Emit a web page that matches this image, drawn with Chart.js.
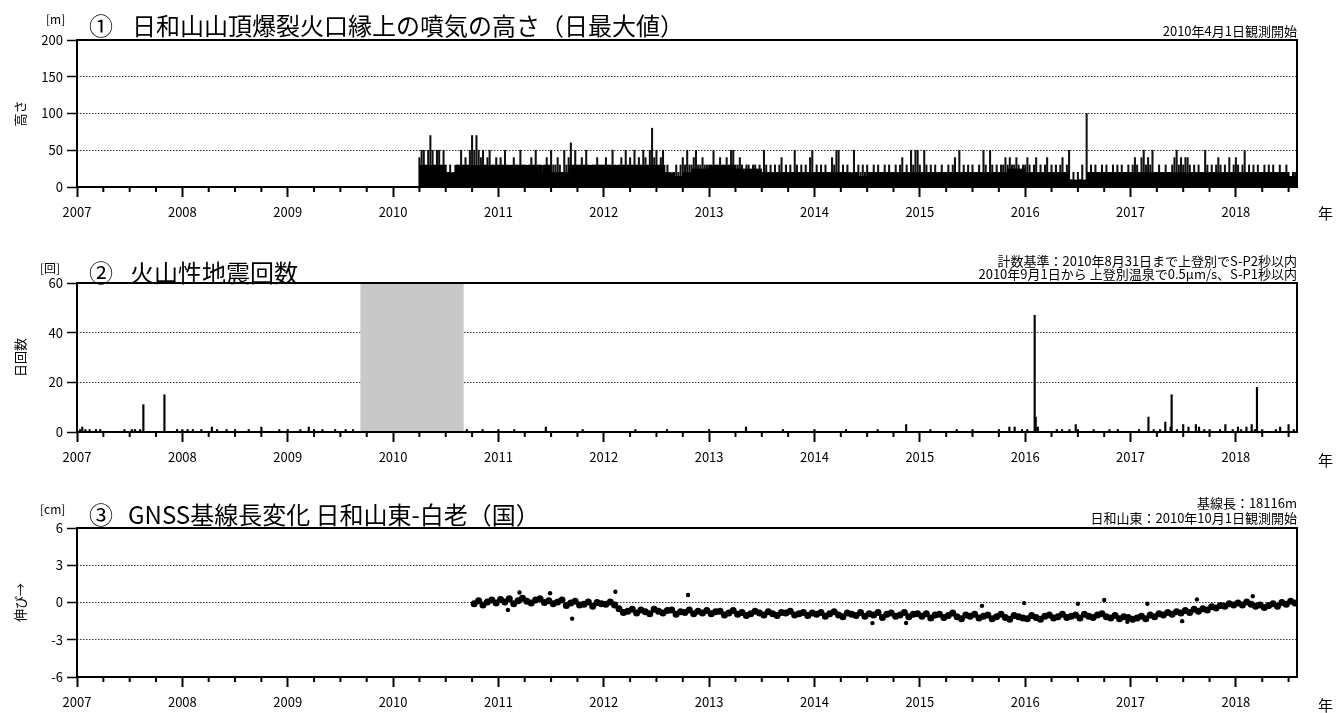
<!DOCTYPE html>
<html lang="ja">
<head>
<meta charset="UTF-8">
<title>日和山 観測データ</title>
<script src="https://cdn.jsdelivr.net/npm/chart.js@4.4.1/dist/chart.umd.min.js"></script>
<style>
  body { margin: 0; background: #fff; font-family: "Noto Sans CJK JP", sans-serif; color: #000; }
  #page { position: relative; width: 1344px; height: 713px; overflow: hidden; }
  .panel { position: absolute; left: 0; width: 1344px; }
  .txt { position: absolute; white-space: nowrap; line-height: 1; }
  .unit { font-size: 12px; }
  .big { font-size: 24px; }
  .note { font-size: 13px; right: 47px; text-align: right; }
  .nen { font-size: 15px; left: 1318px; }
</style>
</head>
<body>
<div id="page">
  <div class="panel" style="top:0;height:230px"><canvas id="c1"></canvas></div>
  <div class="panel" style="top:240px;height:235px"><canvas id="c2"></canvas></div>
  <div class="panel" style="top:485px;height:228px"><canvas id="c3"></canvas></div>

  <div class="txt unit" style="left:46px;top:13px">[m]</div>
  <div class="txt big" style="left:89px;top:13px">①</div>
  <div class="txt big" style="left:132px;top:13px">日和山山頂爆裂火口縁上の噴気の高さ（日最大値）</div>
  <div class="txt note" style="top:24px">2010年4月1日観測開始</div>
  <div class="txt nen" style="top:205px">年</div>

  <div class="txt unit" style="left:40px;top:262px">[回]</div>
  <div class="txt big" style="left:89px;top:260px">②</div>
  <div class="txt big" style="left:130px;top:260px">火山性地震回数</div>
  <div class="txt note" style="top:254px">計数基準：2010年8月31日まで上登別でS-P2秒以内</div>
  <div class="txt note" style="top:267px">2010年9月1日から 上登別温泉で0.5μm/s、S-P1秒以内</div>
  <div class="txt nen" style="top:452px">年</div>

  <div class="txt unit" style="left:40px;top:503px">[cm]</div>
  <div class="txt big" style="left:89px;top:502px">③</div>
  <div class="txt big" style="left:128px;top:502px">GNSS基線長変化 日和山東-白老（国）</div>
  <div class="txt note" style="top:496px">基線長：18116m</div>
  <div class="txt note" style="top:511px">日和山東：2010年10月1日観測開始</div>
  <div class="txt nen" style="top:697px">年</div>
</div>
<script>
// x range (decimal years)
const xMin = 2007;
const xMax = 2018.58;

// 1) plume height [m]
// dense lower part, one level per month from 2010-04
const plumeStart = 2010.25;
const plumeBlock = [
  30,30,30,20,30,30,30,30,30,                 // 2010
  30,30,30,30,30,30,20,20,30,30,30,30,        // 2011
  30,30,30,30,30,30,30,20,15,20,25,25,        // 2012
  30,30,30,25,25,25,20,20,20,20,20,20,        // 2013
  20,20,20,20,20,15,20,20,20,20,20,20,        // 2014
  20,20,20,20,20,20,20,20,20,20,25,25,        // 2015
  20,20,20,20,20,10,10,20,20,20,20,20,        // 2016
  20,20,20,20,20,20,20,20,20,20,20,20,        // 2017
  20,20,20,20,20,20,15                        // 2018
];
// daily-max lines, one value per 1/48 year
const plumePerYear = 48;
const plumeHeights = [
  // 2010
  40,50,50,30,50,70,50,30,50,50,30,50,
  30,20,30,10,20,30,30,50,30,40,30,50,
  70,50,70,50,40,50,30,40,50,30,30,40,
  // 2011
  30,40,30,50,30,20,30,40,30,30,50,30,
  30,20,30,40,30,50,30,30,20,30,40,30,
  50,30,30,40,30,20,50,30,40,60,30,50,
  30,30,40,30,50,30,20,30,30,40,30,30,
  // 2012
  30,40,30,30,50,30,20,30,40,30,50,30,
  40,30,50,30,40,30,50,40,30,50,80,40,
  50,30,40,50,20,30,20,10,20,30,20,30,
  40,30,50,30,30,40,50,30,30,40,30,30,
  // 2013
  30,30,50,30,30,40,30,30,40,30,50,50,
  30,30,40,30,20,30,30,20,30,30,20,30,
  20,50,30,20,30,20,30,20,30,40,20,30,
  20,30,20,50,30,20,30,20,30,20,40,50,
  // 2014
  20,30,20,30,20,30,20,20,40,30,50,50,
  20,30,20,30,20,0,50,20,30,20,30,20,
  30,20,20,30,20,30,20,20,30,20,30,20,
  20,30,20,30,40,20,30,20,50,30,50,50,
  // 2015
  30,20,50,30,20,30,20,30,20,20,30,20,
  20,30,20,30,40,20,50,20,30,20,30,20,
  30,20,20,30,20,50,30,20,50,30,20,30,
  20,30,30,40,30,40,30,30,40,30,20,30,
  // 2016
  30,40,30,20,30,40,20,30,20,30,40,20,
  30,20,30,20,30,40,20,30,50,10,20,5,
  20,10,30,5,100,20,30,20,30,20,20,30,
  20,30,20,20,30,20,30,20,30,20,20,30,
  // 2017
  20,30,40,30,20,40,50,30,40,30,50,20,
  20,30,20,20,30,20,20,30,40,50,30,40,
  30,40,40,30,20,30,20,30,20,20,50,30,
  20,30,20,30,40,30,20,30,20,40,20,30,
  // 2018
  40,30,20,30,50,20,30,20,30,20,30,20,
  20,30,20,30,20,30,20,20,30,20,20,30,
  20,10,20,20
];

// 2) volcanic earthquakes per day
const quakeDates = [
  2007.03,2007.05,2007.08,2007.12,2007.18,2007.22,2007.45,2007.52,2007.55,2007.60,
  2007.63,2007.83,2007.95,2008.00,2008.05,2008.10,2008.18,2008.28,2008.33,2008.42,
  2008.50,2008.63,2008.75,2008.92,2009.00,2009.12,2009.20,2009.25,2009.33,2009.45,
  2009.55,2009.62,2010.70,2010.85,2011.00,2011.15,2011.45,2011.80,2012.30,2012.60,
  2013.00,2013.35,2013.70,2014.00,2014.30,2014.60,2014.87,2015.10,2015.35,2015.50,
  2015.75,2015.85,2015.90,2015.97,2016.02,2016.09,2016.10,2016.12,2016.30,2016.35,
  2016.42,2016.48,2016.50,2016.65,2016.80,2016.88,2017.08,2017.17,2017.22,2017.28,
  2017.33,2017.38,2017.39,2017.44,2017.50,2017.55,2017.62,2017.65,2017.70,2017.75,
  2017.85,2017.90,2017.97,2018.02,2018.05,2018.10,2018.15,2018.18,2018.20,2018.25,
  2018.38,2018.42,2018.50,2018.55
];
const quakeCounts = [
  1,2,1,1,1,1,1,1,1,1,
  11,15,1,1,1,1,1,2,1,1,
  1,1,2,1,1,1,2,1,1,1,
  1,1,1,1,1,1,2,1,1,1,
  1,2,1,1,1,1,3,1,1,1,
  1,2,2,1,1,47,6,2,1,1,
  1,3,1,1,1,1,1,6,1,1,
  4,2,15,1,3,2,3,2,1,1,
  1,3,1,2,1,2,3,1,18,1,
  1,2,3,1
];
// period without data (grey box)
const quakeGap = [2009.69, 2010.67];

// 3) GNSS baseline change, one value per 1/24 year starting 2010.77 [cm]
const gnssStart = 2010.77;
const gnssPerYear = 24;
const gnssValues = [
  -0.1,0.15,-0.2,0.05,0.2,-0.05,
  0.25,0.05,0.3,-0.1,0.15,0.35,0.1,-0.05,0.2,0.3,0.0,0.15,
  -0.1,0.05,0.2,-0.25,-0.05,0.1,-0.2,-0.15,0.05,-0.3,0.0,-0.1,
  -0.15,0.05,-0.2,-0.5,-0.8,-0.7,-0.55,-0.85,-0.6,-0.75,-0.9,-0.55,
  -0.7,-0.85,-0.65,-0.6,-0.95,-0.75,-0.8,-0.6,-0.9,-0.7,-0.85,-0.65,
  -0.9,-0.75,-0.7,-1.0,-0.85,-0.65,-0.95,-0.8,-1.05,-0.9,-0.7,-0.85,
  -1.0,-0.75,-0.9,-1.05,-0.8,-0.85,-0.7,-1.0,-0.9,-0.8,-1.05,-0.85,
  -0.95,-0.8,-1.1,-0.9,-0.75,-1.0,-1.15,-0.85,-0.95,-1.05,-0.8,-1.1,
  -0.9,-1.0,-0.8,-1.2,-0.95,-0.85,-1.1,-1.0,-0.8,-1.15,-0.95,-0.9,
  -1.1,-0.9,-1.25,-1.0,-0.95,-1.2,-1.05,-0.85,-1.15,-1.3,-1.0,-1.1,
  -0.95,-1.25,-1.1,-1.0,-1.3,-1.15,-0.95,-1.2,-1.35,-1.05,-1.15,-1.25,
  -1.3,-1.05,-1.2,-1.35,-1.1,-1.0,-1.25,-1.15,-0.95,-1.2,-1.1,-1.0,
  -1.25,-0.95,-1.1,-1.2,-1.0,-0.9,-1.15,-1.25,-1.05,-1.3,-1.15,-1.2,
  -1.35,-1.25,-1.1,-1.3,-1.0,-1.15,-0.9,-1.0,-0.8,-0.95,-0.75,-0.85,
  -0.65,-0.8,-0.55,-0.7,-0.5,-0.6,-0.35,-0.45,-0.25,-0.3,-0.1,-0.2,
  -0.05,-0.2,0.05,-0.15,-0.3,-0.2,-0.4,-0.25,-0.1,-0.3,0.0,-0.15,0.1,-0.05
];
const gnssOutlierDates = [2011.09,2011.20,2011.49,2011.70,2012.11,2012.80,2014.55,2014.87,2015.59,
  2015.99,2016.50,2016.75,2016.97,2017.16,2017.49,2017.63,2018.16];
const gnssOutlierValues = [-0.6,0.8,0.75,-1.3,0.86,0.6,-1.66,-1.65,-0.27,
  -0.05,-0.1,0.2,-1.55,-0.1,-1.5,0.25,0.5];

const FONT = '"Noto Sans CJK JP", sans-serif';

// frame around the plot area + quarterly minor ticks on x
const framePlugin = {
  id: 'frame',
  afterDraw(chart) {
    const { ctx, chartArea: a, scales: { x } } = chart;
    ctx.save();
    ctx.strokeStyle = '#000';
    ctx.lineWidth = 2;
    ctx.strokeRect(a.left, a.top, a.right - a.left, a.bottom - a.top);
    ctx.beginPath();
    for (let q = 1; xMin + q * 0.25 <= xMax; q++) {
      if (q % 4 === 0) continue;
      const px = x.getPixelForValue(xMin + q * 0.25);
      ctx.moveTo(px, a.bottom);
      ctx.lineTo(px, a.bottom + 5);
    }
    ctx.stroke();
    ctx.restore();
  }
};

const gapPlugin = {
  id: 'gap',
  beforeDatasetsDraw(chart) {
    const { ctx, chartArea: a, scales: { x } } = chart;
    const x0 = x.getPixelForValue(quakeGap[0]);
    const x1 = x.getPixelForValue(quakeGap[1]);
    ctx.save();
    ctx.fillStyle = '#c8c8c8';
    ctx.fillRect(x0, a.top, x1 - x0, a.bottom - a.top);
    ctx.restore();
  }
};

function scalesFor(yMin, yMax, yStep, yTitle, xHeight) {
  return {
    x: {
      type: 'linear', min: xMin, max: xMax, offset: false,
      afterFit: s => { s.height = xHeight; },
      ticks: {
        stepSize: 1, includeBounds: false, padding: 7, color: '#000',
        font: { family: FONT, size: 13 },
        callback: v => Number.isInteger(v) ? String(v) : ''
      },
      grid: { drawOnChartArea: false, offset: false, tickLength: 10, tickWidth: 2, tickColor: '#000', tickBorderDash: [] },
      border: { display: false }
    },
    y: {
      min: yMin, max: yMax,
      afterFit: s => { s.width = 77; },
      ticks: { stepSize: yStep, padding: 4, color: '#000', font: { family: FONT, size: 13 } },
      grid: {
        color: c => (c.tick && (c.tick.value === yMin || c.tick.value === yMax)) ? 'rgba(0,0,0,0)' : '#333',
        lineWidth: 1, tickLength: 10, tickWidth: 1.5, tickColor: '#000', tickBorderDash: []
      },
      border: { display: false, dash: [1.5, 1.5] },
      title: { display: true, text: yTitle, color: '#000', font: { family: FONT, size: 13 }, padding: { top: 12, bottom: 0 } }
    }
  };
}

function baseOptions(padTop, scales) {
  return {
    responsive: true, maintainAspectRatio: false, animation: false, events: [],
    layout: { padding: { top: padTop, right: 47, left: 0, bottom: 0 } },
    plugins: { legend: { display: false }, tooltip: { enabled: false } },
    scales
  };
}

new Chart(document.getElementById('c1'), {
  type: 'bar',
  data: {
    datasets: [{
      data: plumeBlock.map((v, j) => ({ x: plumeStart + (j + 0.5) / 12, y: v })),
      backgroundColor: '#000', borderWidth: 0, barThickness: 9, grouped: false, inflateAmount: 0
    }, {
      data: plumeHeights.map((v, i) => ({ x: plumeStart + i / plumePerYear, y: v })),
      backgroundColor: '#111', borderWidth: 0, barThickness: 1.4, grouped: false
    }]
  },
  options: baseOptions(40, scalesFor(0, 200, 50, '高さ', 43)),
  plugins: [framePlugin]
});

new Chart(document.getElementById('c2'), {
  type: 'bar',
  data: {
    datasets: [{
      data: quakeDates.map((d, i) => ({ x: d, y: quakeCounts[i] })),
      backgroundColor: '#000', borderWidth: 0, barThickness: 1.5
    }]
  },
  options: baseOptions(43, scalesFor(0, 60, 20, '日回数', 43)),
  plugins: [gapPlugin, framePlugin]
});

new Chart(document.getElementById('c3'), {
  type: 'scatter',
  data: {
    datasets: [{
      data: gnssValues.map((v, i) => ({ x: gnssStart + i / gnssPerYear, y: v })),
      backgroundColor: '#000', borderWidth: 0, pointRadius: 3.5
    }, {
      data: gnssOutlierDates.map((d, i) => ({ x: d, y: gnssOutlierValues[i] })),
      backgroundColor: '#000', borderWidth: 0, pointRadius: 2.2
    }]
  },
  options: baseOptions(43, scalesFor(-6, 6, 3, '伸び→', 36)),
  plugins: [framePlugin]
});
</script>
</body>
</html>
